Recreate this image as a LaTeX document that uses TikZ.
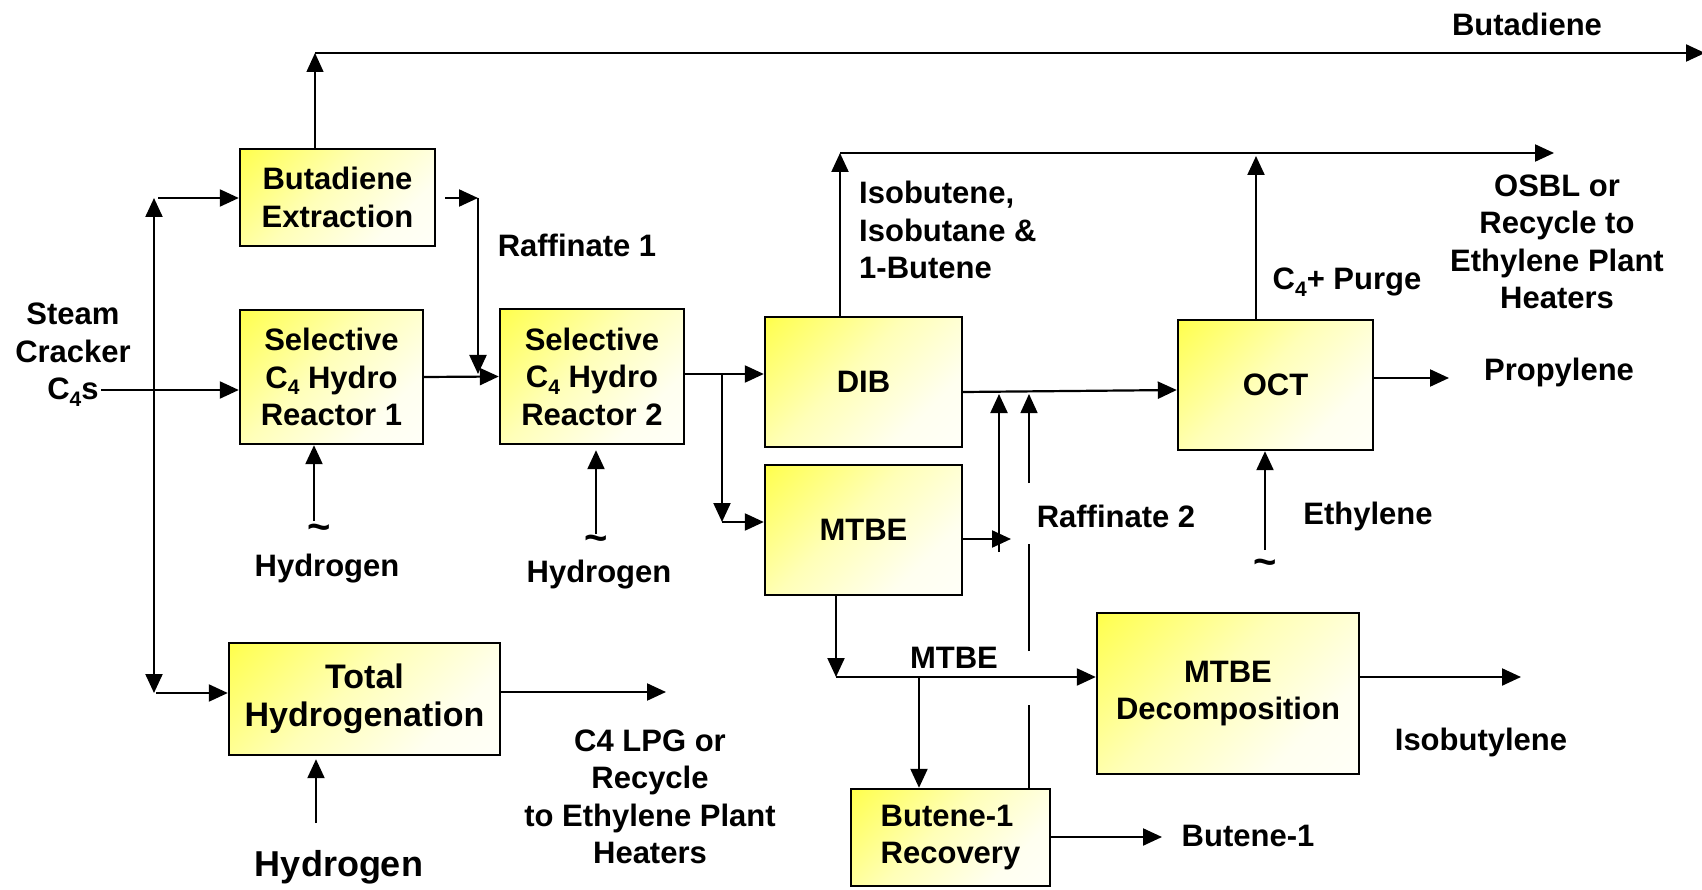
\documentclass[tikz,border=0pt]{standalone}
\usepackage{fontspec}
\setmainfont{Liberation Sans}
\usetikzlibrary{arrows.meta}
\newcommand\lowsub[1]{\raisebox{-0.22em}{\fontsize{21}{21}\selectfont #1}}
\newcommand\tildechar{{\fontsize{40}{40}\selectfont\textasciitilde}}
\pgfdeclareverticalshading{boxshade}{100bp}{color(0bp)=(white); color(30bp)=(yellow!6!white); color(55bp)=(yellow!28!white); color(82bp)=(yellow!65!white); color(100bp)=(yellow)}
\begin{document}
\begin{tikzpicture}[x=1pt,y=-1pt,
  every node/.style={font=\fontsize{31}{37.5}\selectfont\bfseries, inner sep=0pt, align=center},
  box/.style={draw, line width=2.4pt, shade, shading=boxshade, shading angle=45},
  flow/.style={line width=2.2pt, -{Triangle[length=19pt,width=17pt]}},
  thinflow/.style={line width=1.4pt, -{Triangle[length=19pt,width=17pt]}},
  thinline/.style={line width=1.4pt}]
\fill[white] (0,0) rectangle (1702,890);
\useasboundingbox (0,0) rectangle (1702,890);

% boxes
\node[box, minimum width=195pt, minimum height=97pt] (BE) at (337.5,197.5) {Butadiene\\Extraction};
\node[box, minimum width=183pt, minimum height=134pt] (R1) at (331.5,377) {Selective\\C\lowsub{4} Hydro\\Reactor 1};
\node[box, minimum width=184pt, minimum height=135pt] (R2) at (592,376.5) {Selective\\C\lowsub{4} Hydro\\Reactor 2};
\node[box, minimum width=271pt, minimum height=112pt, font=\fontsize{34}{37.5}\selectfont\bfseries] (TH) at (364.5,699) {Total\\Hydrogenation};
\node[box, minimum width=197pt, minimum height=130pt] (DIB) at (863.5,382) {DIB};
\node[box, minimum width=197pt, minimum height=130pt] (MTBE) at (863.5,530) {MTBE};
\node[box, minimum width=195pt, minimum height=130pt] (OCT) at (1275.5,385) {OCT};
\node[box, minimum width=262pt, minimum height=161pt] (MD) at (1228,693.5) {MTBE\\Decomposition};
\node[box, minimum width=199pt, minimum height=97pt, align=left] (BR) at (950.5,837.5) {Butene-1\\Recovery};

% labels
\node (feedlbl) at (73,355) {Steam\\Cracker\\C\lowsub{4}s};
\node (butlbl) at (1527,24) {Butadiene};
\node (raf1) at (577,245) {Raffinate 1};
\node (til1) at (319,532) {\tildechar};
\node (hyd1) at (327,569) {Hydrogen};
\node (til2) at (596,543) {\tildechar};
\node (hyd2) at (599,575) {Hydrogen};
\node (lpg) at (650,797) {C4 LPG or\\Recycle\\to Ethylene Plant\\Heaters};
\node[font=\fontsize{36}{40}\selectfont\bfseries] (hyd3) at (339,867) {Hydrogen};
\node[anchor=west, align=left] (iso) at (859,230) {Isobutene,\\Isobutane \&\\1-Butene};
\node (purge) at (1347,282) {C\lowsub{4}+ Purge};
\node (osbl) at (1557,242) {OSBL or\\Recycle to\\Ethylene Plant\\Heaters};
\node (prop) at (1559,372) {Propylene};
\node (raf2) at (1116,516) {Raffinate 2};
\node (eth) at (1368,516) {Ethylene};
\node (til3) at (1265,567) {\tildechar};
\node (mtbelbl) at (954,658) {MTBE};
\node (isobl) at (1481,742) {Isobutylene};
\node (but1) at (1248,836) {Butene-1};

% feed
\coordinate (f0) at (101,390);
\coordinate (fj) at (154,390);
\coordinate (fu) at (154,198);
\coordinate (fd) at (154,693);
\draw[flow] (f0) -- (f0 -| R1.west);
\draw[flow] (fj) -- (fu);
\draw[flow] (fj) -- (fd);
\draw[flow] ([xshift=4pt]fu) -- (fu -| BE.west);
\draw[flow] ([xshift=2pt]fd) -- (fd -| TH.west);

% butadiene product
\coordinate (bx) at (315,53);
\coordinate (bend) at (1705,53);
\draw[thinflow] (BE.north -| bx) -- (bx);
\draw[flow] (bx) -- (bend);

% raffinate 1
\coordinate (ra) at (445,198);
\coordinate (rb) at (478,198);
\coordinate (rc) at (478,374);
\draw[flow] (ra) -- (rb);
\draw[flow] (rb) -- (rc);
\draw[flow] (R1.east) -- (R2.west);

% hydrogen feeds
\coordinate (h1) at (314,521);
\draw[flow] (h1) -- (h1 |- R1.south);
\coordinate (h2) at (596,534);
\draw[flow, shorten >=5pt] (h2) -- (h2 |- R2.south);
\coordinate (h3) at (316,823);
\draw[flow, shorten >=3pt] (h3) -- (h3 |- TH.south);

% total hydrogenation product
\coordinate (lpgend) at (666,692);
\draw[flow] (lpgend -| TH.east) -- (lpgend);

% R2 to DIB and MTBE
\coordinate (dj) at (722,374);
\coordinate (dk) at (722,522);
\draw[flow] (dj -| R2.east) -- (dj -| DIB.west);
\draw[flow] (dj) -- (dk);
\draw[flow] (dk) -- (dk -| MTBE.west);

% DIB to OCT
\draw[flow] ([yshift=-10pt]DIB.east) -- ([yshift=-5pt]OCT.west);

% MTBE raffinate
\coordinate (me) at (1011,539);
\draw[flow] (me -| MTBE.east) -- (me);
\coordinate (v1a) at (999,552);
\coordinate (v1b) at (999,394);
\draw[flow] (v1a) -- (v1b);

% raffinate 2 from butene-1 recovery
\coordinate (v2) at (1029,394);
\coordinate (v2a) at (1029,705);
\coordinate (v2b) at (1029,651);
\coordinate (v2c) at (1029,544);
\coordinate (v2d) at (1029,483);
\draw[thinline] (v2 |- BR.north) -- (v2a);
\draw[thinline] (v2b) -- (v2c);
\draw[thinflow] (v2d) -- (v2);

% MTBE product
\coordinate (mb) at (836,677);
\draw[flow] (MTBE.south -| mb) -- (mb);
\draw[flow] (mb) -- (mb -| MD.west);
\coordinate (bb) at (919,677);
\draw[flow] (bb) -- (bb |- BR.north);
\coordinate (mdo) at (1521,677);
\draw[flow] (mdo -| MD.east) -- (mdo);
\coordinate (bro) at (1162,837);
\draw[flow] (bro -| BR.east) -- (bro);

% OCT connections
\coordinate (eo) at (1265,550);
\draw[flow] (eo) -- (eo |- OCT.south);
\coordinate (po) at (1449,378);
\draw[flow] (po -| OCT.east) -- (po);
\coordinate (dt) at (840,153);
\coordinate (dte) at (1554,153);
\draw[flow] (DIB.north -| dt) -- (dt);
\draw[flow] (dt) -- (dte);
\coordinate (ot) at (1256,156);
\draw[flow] (OCT.north -| ot) -- (ot);
\end{tikzpicture}
\end{document}
